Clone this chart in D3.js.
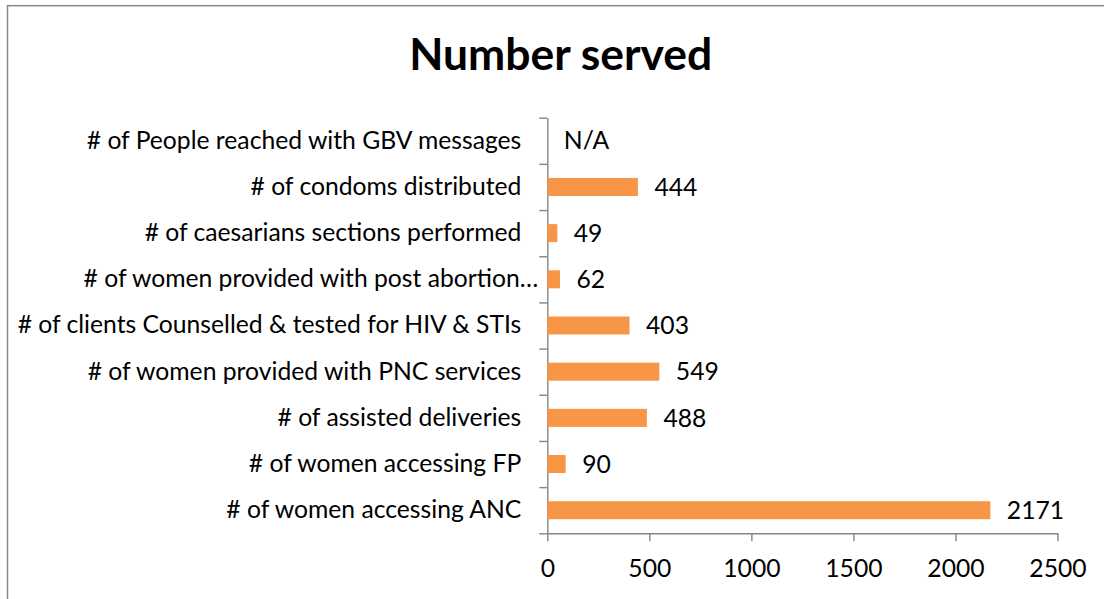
<!DOCTYPE html>
<html>
<head>
<meta charset="utf-8">
<script src="https://cdn.jsdelivr.net/npm/d3@7"></script>
<style>
  body { margin: 0; background: #fff; }
  svg { display: block; }
</style>
</head>
<body>
<div id="chart"></div>
<script>
// data (top to bottom)
var categories = [
  "# of People reached with GBV messages",
  "# of condoms distributed",
  "# of caesarians sections performed",
  "# of women provided with post abortion…",
  "# of clients Counselled & tested for HIV & STIs",
  "# of women provided with PNC services",
  "# of assisted deliveries",
  "# of women accessing FP",
  "# of women accessing ANC"
];
var values = [null, 444, 49, 62, 403, 549, 488, 90, 2171];
var xTicks = [0, 500, 1000, 1500, 2000, 2500];
var chartTitle = "Number served";

var W = 1104, H = 599;
var font = "Lato, 'Open Sans', sans-serif";
var axisColor = "#868686";
var barColor = "#f79646";

// plot area
var plotLeft = 547.3, plotRight = 1057.5, plotTop = 117.7, plotBottom = 533.3;

var svg = d3.select("#chart")
  .append("svg")
    .attr("width", W)
    .attr("height", H);

// chart frame (right/bottom edges are off the page)
svg.append("rect")
  .attr("x", 7.5).attr("y", 5.7)
  .attr("width", 1200).attr("height", 700)
  .attr("fill", "none")
  .attr("stroke", "#878787")
  .attr("stroke-width", 1.5);

// pick font sizes so text widths match the picture
function fitSize(str, weight, base, target) {
  var t = svg.append("text")
    .style("font-family", font).style("font-weight", weight)
    .style("font-size", base + "px").text(str);
  var len = t.node().getComputedTextLength();
  t.remove();
  return base * target / len;
}
var labelSize = fitSize(categories[4], "normal", 22, 504);
var titleSize = fitSize(chartTitle, "bold", 38, 303);

// title
svg.append("text")
  .attr("x", 560.7).attr("y", 70)
  .attr("text-anchor", "middle")
  .style("font-family", font)
  .style("font-weight", "bold")
  .style("font-size", titleSize + "px")
  .text(chartTitle);

// scales
var x = d3.scaleLinear()
  .domain([0, 2500])
  .range([plotLeft, plotRight]);

var y = d3.scaleBand()
  .domain(categories)
  .range([plotTop, plotBottom])
  .paddingInner(0.61)
  .paddingOuter(0.305);

var yEdge = d3.scaleLinear()
  .domain([0, categories.length])
  .range([plotTop, plotBottom]);

// X axis
var xAxis = svg.append("g")
  .attr("transform", "translate(0," + plotBottom + ")")
  .call(d3.axisBottom(x).tickValues(xTicks).tickFormat(d3.format("d"))
    .tickSize(8).tickSizeOuter(0));
xAxis.selectAll("text")
  .attr("y", 43.7).attr("dy", null)
  .style("font-family", font)
  .style("font-size", labelSize + "px")
  .attr("fill", "#000");

// Y axis: tick marks on the category boundaries
var yAxis = svg.append("g")
  .attr("transform", "translate(" + plotLeft + ",0)")
  .call(d3.axisLeft(yEdge).tickValues(d3.range(categories.length + 1))
    .tickSize(8).tickSizeOuter(0).tickFormat(""));

// category labels
var yLabels = svg.append("g")
  .attr("transform", "translate(" + plotLeft + ",0)")
  .call(d3.axisLeft(y).tickSize(0).tickPadding(26));
yLabels.select(".domain").remove();
yLabels.selectAll("text")
  .style("font-family", font)
  .style("font-size", labelSize + "px")
  .attr("fill", "#000")
  .attr("x", function(d) { return d.slice(-1) == "…" ? -9 : -26; });

svg.selectAll(".domain, .tick line")
  .attr("stroke", axisColor)
  .attr("stroke-width", 1.4);

// bars
svg.selectAll("rect.bar")
  .data(values)
  .enter()
  .append("rect")
    .attr("class", "bar")
    .attr("x", x(0))
    .attr("y", function(d, i) { return y(categories[i]); })
    .attr("width", function(d) { return d == null ? 0 : x(d) - x(0); })
    .attr("height", y.bandwidth())
    .attr("fill", barColor);

// value labels
svg.selectAll("text.val")
  .data(values)
  .enter()
  .append("text")
    .attr("class", "val")
    .attr("x", function(d) { return x(d == null ? 0 : d) + 16.5; })
    .attr("y", function(d, i) { return y(categories[i]) + y.bandwidth() / 2; })
    .attr("dy", "0.35em")
    .style("font-family", font)
    .style("font-size", labelSize + "px")
    .text(function(d) { return d == null ? "N/A" : d; });
</script>
</body>
</html>
